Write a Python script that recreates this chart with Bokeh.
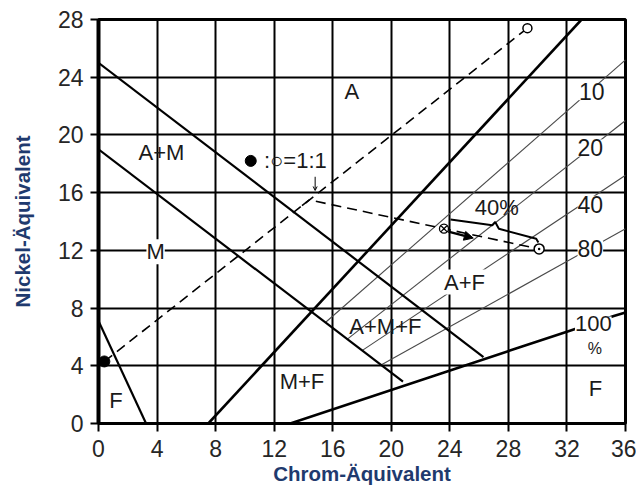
from bokeh.plotting import figure
from bokeh.models import ColumnDataSource, LabelSet, Arrow, NormalHead, OpenHead
from bokeh.core.properties import value
from bokeh.embed import file_html
from bokeh.resources import INLINE

FONT = "Liberation Sans"

# ---- axes ----
x_ticks = [0, 4, 8, 12, 16, 20, 24, 28, 32, 36]
y_ticks = [0, 4, 8, 12, 16, 20, 24, 28]

# ---- phase boundary lines (Chrom-Äquivalent, Nickel-Äquivalent) ----
upper_cr = [0.0, 26.3]
upper_ni = [25.0, 4.6]
lower_cr = [0.0, 20.8]
lower_ni = [19.0, 2.9]
am_cr = [7.5, 33.0]
am_ni = [0.0, 28.0]
ferr_cr = [0.0, 3.25]
ferr_ni = [7.1, 0.0]
f100_cr = [13.1, 32.1, 35.2, 36.0]
f100_ni = [0.0, 6.4, 7.45, 7.7]

# ---- ferrite iso-lines ----
iso_labels = ["10", "20", "40", "80"]
iso_start_cr = [15.5, 17.0, 18.0, 19.3]
iso_start_ni = [7.0, 5.85, 5.05, 4.05]
iso_end_cr = [36.0, 36.0, 36.0, 36.0]
iso_end_ni = [25.2, 21.0, 17.2, 13.5]
iso_label_cr = [33.7, 33.6, 33.6, 33.6]
iso_label_ni = [23.0, 19.1, 15.2, 12.1]

# ---- dilution lines ----
mix1_cr = [0.4, 29.3]
mix1_ni = [4.3, 27.4]
mix2_cr = [13.9, 14.4, 23.6, 30.1]
mix2_ni = [15.1, 15.5, 13.5, 12.1]
brace_cr = [24.05, 26.9, 27.1, 27.35, 29.9, 30.05]
brace_ni = [14.14, 13.74, 13.97, 13.5, 12.8, 12.55]

# ---- region labels ----
region_text = ["A", "A+M", "F", "M+F", "A+M+F", "F", "40%"]
region_cr = [17.3, 4.3, 1.2, 13.9, 19.6, 33.95, 27.2]
region_ni = [23.0, 18.8, 1.6, 2.9, 6.7, 2.4, 15.0]
boxed_text = ["M", "A+F", "100"]
boxed_cr = [3.9, 25.0, 33.8]
boxed_ni = [11.9, 9.8, 6.9]

p = figure(width=636, height=491, x_range=(0, 36), y_range=(0, 28),
           output_backend="svg", toolbar_location=None,
           min_border_left=98, min_border_right=11, min_border_top=19,
           min_border_bottom=68)
p.outline_line_color = "black"
p.outline_line_width = 3
p.background_fill_color = "white"
p.border_fill_color = "white"

for ax, ticks in ((p.xaxis, x_ticks), (p.yaxis, y_ticks)):
    ax.ticker = ticks
    ax.axis_line_color = "black"
    ax.major_tick_line_color = "black"
    ax.major_tick_line_width = 2
    ax.major_tick_out = 8
    ax.major_tick_in = 0
    ax.minor_tick_out = 0
    ax.minor_tick_in = 0
    ax.major_label_text_font = FONT
    ax.major_label_text_font_size = "23px"
    ax.major_label_text_color = "#262626"
    ax.axis_label_text_font = FONT
    ax.axis_label_text_font_style = "bold"
    ax.axis_label_text_font_size = "20.5px"
    ax.axis_label_text_color = "#1f3a6e"

p.xaxis.axis_line_width = 3
p.yaxis.axis_line_width = 4
p.xaxis.axis_label = "Chrom-Äquivalent"
p.yaxis.axis_label = "Nickel-Äquivalent"
p.xaxis.major_label_standoff = 8
p.xaxis.axis_label_standoff = 2
p.yaxis.major_label_standoff = 7
p.yaxis.axis_label_standoff = 21

p.xgrid.ticker = x_ticks
p.ygrid.ticker = y_ticks
for g in (p.xgrid, p.ygrid):
    g.grid_line_color = "black"
    g.grid_line_width = 2
    g.grid_line_alpha = 1.0

# ferrite iso-lines (thin grey)
p.segment(iso_start_cr, iso_start_ni, iso_end_cr, iso_end_ni,
          line_color="#4a4a4a", line_width=1.1)

# phase boundaries
p.line(upper_cr, upper_ni, line_color="black", line_width=2.2)
p.line(lower_cr, lower_ni, line_color="black", line_width=2.2)
p.line(am_cr, am_ni, line_color="black", line_width=2.6)
p.line(ferr_cr, ferr_ni, line_color="black", line_width=2.2)
p.line(f100_cr, f100_ni, line_color="black", line_width=2.6)

# dilution lines
p.line(mix1_cr, mix1_ni, line_color="black", line_width=1.6, line_dash="10 6")
p.line(mix2_cr, mix2_ni, line_color="black", line_width=1.6, line_dash="10 6")
p.line(brace_cr, brace_ni, line_color="black", line_width=2)

# points
p.scatter([0.4, 10.4], [4.3, 18.2], marker="circle", size=11, color="black")
p.scatter([29.3], [27.4], marker="circle", size=9, fill_color="white",
          line_color="black", line_width=1.5)
p.scatter([23.6], [13.5], marker="circle_x", size=9, fill_color="white",
          line_color="black", line_width=1.3)
p.scatter([30.1], [12.1], marker="circle_dot", size=10, fill_color="white",
          line_color="black", line_width=1.5)

p.add_layout(Arrow(end=NormalHead(size=9, fill_color="black", line_color="black"),
                   x_start=23.9, y_start=13.3, x_end=25.6, y_end=12.85,
                   line_width=2.5, line_color="black"))
p.add_layout(Arrow(end=OpenHead(size=4, line_width=1), x_start=14.8, y_start=17.1,
                   x_end=14.8, y_end=16.15, line_width=1, line_color="black"))

# labels
reg = ColumnDataSource(dict(x=region_cr, y=region_ni, t=region_text))
p.add_layout(LabelSet(x="x", y="y", text="t", source=reg, text_align="center",
                      text_baseline="middle", text_font=value(FONT),
                      text_font_size="22px", text_color="#1a1a1a"))
box = ColumnDataSource(dict(x=boxed_cr, y=boxed_ni, t=boxed_text))
p.add_layout(LabelSet(x="x", y="y", text="t", source=box, text_align="center",
                      text_baseline="middle", text_font=value(FONT),
                      text_font_size="22px", text_color="#1a1a1a",
                      background_fill_color="white"))
iso = ColumnDataSource(dict(x=iso_label_cr, y=iso_label_ni, t=iso_labels))
p.add_layout(LabelSet(x="x", y="y", text="t", source=iso, text_align="center",
                      text_baseline="middle", text_font=value(FONT),
                      text_font_size="23px", text_color="#1a1a1a",
                      background_fill_color="white"))
small = ColumnDataSource(dict(x=[33.9], y=[5.2], t=["%"]))
p.add_layout(LabelSet(x="x", y="y", text="t", source=small, text_align="center",
                      text_baseline="middle", text_font=value(FONT),
                      text_font_size="16px", text_color="#1a1a1a"))
leg = ColumnDataSource(dict(x=[11.3], y=[18.2], t=[":○=1:1"]))
p.add_layout(LabelSet(x="x", y="y", text="t", source=leg, text_align="left",
                      text_baseline="middle", text_font=value(FONT),
                      text_font_size="22px", text_color="#1a1a1a"))

open("out.html", "w").write(file_html(p, INLINE))
